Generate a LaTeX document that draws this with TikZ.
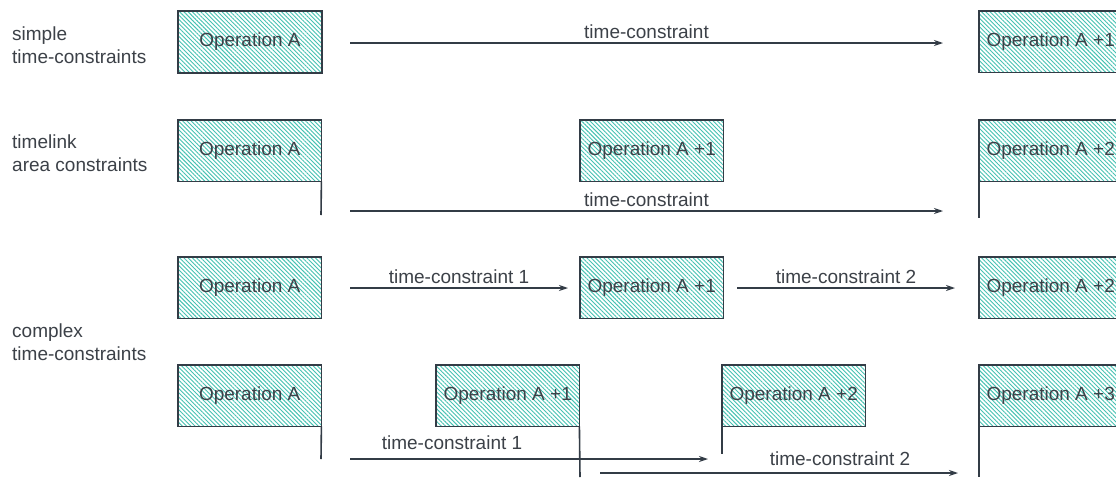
\documentclass[tikz,border=0pt]{standalone}
\usepackage{fontspec}
\setmainfont{Liberation Sans}
\usetikzlibrary{patterns.meta,arrows.meta}
\definecolor{ink}{HTML}{333C46}
\definecolor{txt}{HTML}{3C4148}
\definecolor{hatch}{HTML}{45C2B2}
\tikzset{
  op/.style={preaction={fill=white},
    pattern={Lines[angle=-45, distance=3pt, line width=0.9pt]},
    pattern color=hatch,
    minimum width=143pt, minimum height=61pt, inner sep=0pt,
    anchor=north west, text=txt, font=\fontsize{19}{21}\selectfont},
  frame/.style={draw=ink, line width=1.6pt},
  tc/.style={draw=ink, line width=1.4pt, -{Stealth[length=9pt,width=6pt]}},
  tick/.style={draw=ink, line width=1.6pt},
  lbl/.style={text=txt, font=\fontsize{19}{21}\selectfont, inner sep=0pt},
  side/.style={text=txt, font=\fontsize{19}{23}\selectfont, align=left,
    anchor=west, inner sep=0pt}
}
\begin{document}
\begin{tikzpicture}[x=1pt, y=-1pt]
\clip (0,0) rectangle (1116,477);
\fill[white] (0,0) rectangle (1116,477);

% row labels
\node[side] (l1) at (12,45) {simple\\time-constraints};
\node[side] (l2) at (12,153) {timelink\\area constraints};
\node[side] (l3) at (12,342) {complex\\time-constraints};

% simple time-constraints
\node[op] (a1) at (178,11) {Operation A};
\node[op] (b1) at (979,11) {Operation A +1};
\coordinate (s1) at (350,43);
\coordinate (e1) at (943,43);
\draw[tc] (s1) -- node[lbl, above=4pt] (t1) {time-constraint} (e1);

% timelink area constraints
\node[op] (a2) at (178,120) {Operation A};
\node[op] (b2) at (580,120) {Operation A +1};
\node[op] (c2) at (979,120) {Operation A +2};
\coordinate (a2d) at (321,215);
\coordinate (c2d) at (979,218);
\draw[tick] (a2.south east) -- (a2d);
\draw[tick] (c2.south west) -- (c2d);
\coordinate (s2) at (350,211);
\coordinate (e2) at (943,211);
\draw[tc] (s2) -- node[lbl, above=4pt] (t2) {time-constraint} (e2);

% complex time-constraints, chained
\node[op] (a3) at (178,257) {Operation A};
\node[op] (b3) at (580,257) {Operation A +1};
\node[op] (c3) at (979,257) {Operation A +2};
\coordinate (s3) at (350,288);
\coordinate (e3) at (568,288);
\coordinate (s4) at (737,288);
\coordinate (e4) at (955,288);
\draw[tc] (s3) -- node[lbl, above=4pt] (t3) {time-constraint 1} (e3);
\draw[tc] (s4) -- node[lbl, above=4pt] (t4) {time-constraint 2} (e4);

% complex time-constraints, overlapping
\node[op] (a4) at (178,365) {Operation A};
\node[op] (b4) at (436,365) {Operation A +1};
\node[op] (c4) at (722,365) {Operation A +2};
\node[op] (d4) at (979,365) {Operation A +3};
\coordinate (a4d) at (321,459);
\coordinate (b4d) at (580,477);
\coordinate (c4d) at (722,454);
\coordinate (d4d) at (979,477);
\draw[tick] (a4.south east) -- (a4d);
\draw[tick] (b4.south east) -- (b4d);
\draw[tick] (c4.south west) -- (c4d);
\draw[tick] (d4.south west) -- (d4d);
\coordinate (s5) at (350,459);
\coordinate (e5) at (708,459);
\coordinate (s6) at (600,473);
\coordinate (e6) at (958,473);
\draw[tc] (s5) -- (e5);
\node[lbl] (t5) at (452,443) {time-constraint 1};
\draw[tc] (s6) -- (e6);
\node[lbl] (t6) at (840,459) {time-constraint 2};

% outlines of the operation boxes
\foreach \n in {a1,b1,a2,b2,c2,a3,b3,c3,a4,b4,c4,d4}
  \draw[frame] (\n.north west) rectangle (\n.south east);
\end{tikzpicture}
\end{document}
